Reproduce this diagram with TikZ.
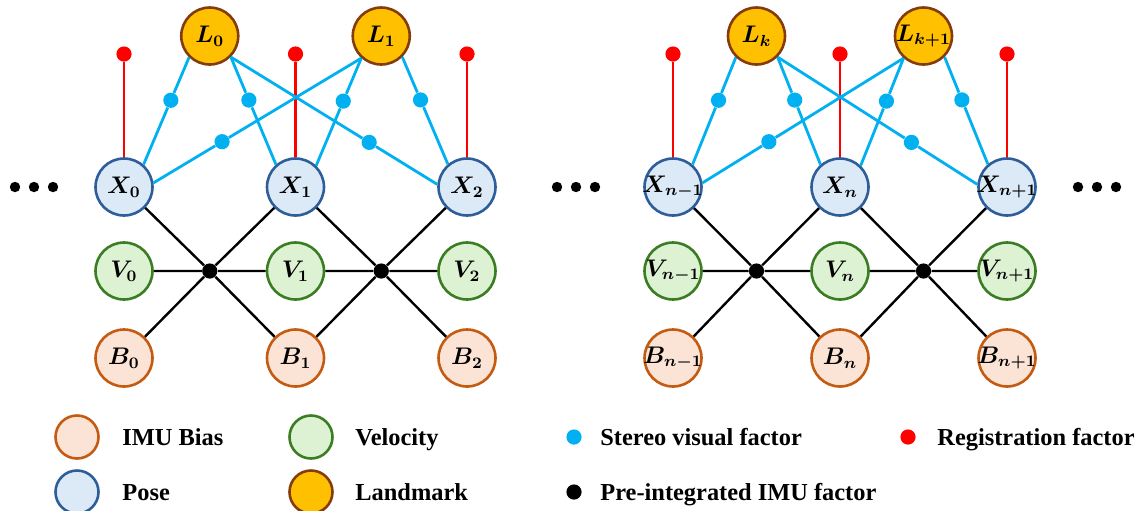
\documentclass[tikz,border=0pt]{standalone}
\usepackage{amsmath}
\usepackage{bm}
\usepackage{fontspec}
\setmainfont{Liberation Serif}
\usetikzlibrary{calc}
\definecolor{poseFill}{HTML}{DCE9F6}
\definecolor{poseLine}{HTML}{2E5E9A}
\definecolor{velFill}{HTML}{DDF2D3}
\definecolor{velLine}{HTML}{3A7D22}
\definecolor{biasFill}{HTML}{FBE3D6}
\definecolor{biasLine}{HTML}{C55A11}
\definecolor{lmFill}{HTML}{FFC000}
\definecolor{lmLine}{HTML}{843C0C}
\definecolor{visBlue}{HTML}{00B0F0}
\definecolor{regRed}{HTML}{FF0000}
\newcommand{\vlabel}[1]{\makebox[0pt]{$\bm{#1}$}}

\begin{document}
\begin{tikzpicture}[x=.5pt,y=-.5pt,
 var/.style={circle,minimum size=28.5pt,inner sep=0pt,line width=1.3pt,font=\fontsize{11.5}{13}\selectfont},
 pose/.style={var,draw=poseLine,fill=poseFill},
 vel/.style={var,draw=velLine,fill=velFill},
 bias/.style={var,draw=biasLine,fill=biasFill},
 lmk/.style={var,draw=lmLine,fill=lmFill},
 fac/.style={circle,minimum size=7.6pt,inner sep=0pt},
 vis/.style={visBlue,line width=1.4pt},
 reg/.style={regRed,line width=1.2pt},
 imu/.style={black,line width=1.2pt},
 leg/.style={var,minimum size=21.5pt},
 legtext/.style={anchor=base west,inner sep=0pt,yshift=-4pt,font=\fontsize{12.2}{14}\bfseries}]
\useasboundingbox (0,0) rectangle (1140,510);

\foreach \g/\x/\d/\i/\j/\k/\p/\q in {a/124/171.5/0/1/2/0/1, b/673/167/n-1/n/n+1/k/k+1} {
 % variables
 \node[pose] (X\g1) at (\x,187) {\vlabel{X_{\i}}};
 \node[pose] (X\g2) at ({\x+\d},187) {\vlabel{X_{\j}}};
 \node[pose] (X\g3) at ({\x+2*\d},187) {\vlabel{X_{\k}}};
 \node[vel] (V\g1) at (\x,271) {\vlabel{V_{\i}}};
 \node[vel] (V\g2) at ({\x+\d},271) {\vlabel{V_{\j}}};
 \node[vel] (V\g3) at ({\x+2*\d},271) {\vlabel{V_{\k}}};
 \node[bias] (B\g1) at (\x,358) {\vlabel{B_{\i}}};
 \node[bias] (B\g2) at ({\x+\d},358) {\vlabel{B_{\j}}};
 \node[bias] (B\g3) at ({\x+2*\d},358) {\vlabel{B_{\k}}};
 \node[lmk] (L\g1) at ({\x+\d/2},36) {\vlabel{L_{\p}}};
 \node[lmk] (L\g2) at ({\x+1.5*\d},36) {\vlabel{L_{\q}}};
 % pre-integrated IMU factors
 \node[fac,fill=black] (F\g1) at ({\x+\d/2},271) {};
 \node[fac,fill=black] (F\g2) at ({\x+1.5*\d},271) {};
 \draw[imu] (X\g1) -- (F\g1) -- (B\g2) (X\g2) -- (F\g1) -- (B\g1) (V\g1) -- (F\g1) -- (V\g2);
 \draw[imu] (X\g2) -- (F\g2) -- (B\g3) (X\g3) -- (F\g2) -- (B\g2) (V\g2) -- (F\g2) -- (V\g3);
 % registration factors
 \foreach \n in {1,2,3} {
  \node[fac,fill=regRed] (R\g\n) at ({\x+(\n-1)*\d},54) {};
  \draw[reg] (X\g\n) -- (R\g\n);
 }
 % stereo visual factors
 \node[fac,fill=visBlue] (S\g1) at ($(L\g1.226)!.4!(X\g1.49)$) {};
 \node[fac,fill=visBlue] (S\g2) at ($(L\g1.315)!.4!(X\g2.131)$) {};
 \node[fac,fill=visBlue] (S\g3) at ($(L\g1.315)!.67!(X\g3.175)$) {};
 \node[fac,fill=visBlue] (S\g4) at ($(L\g2.228)!.67!(X\g1.8)$) {};
 \node[fac,fill=visBlue] (S\g5) at ($(L\g2.228)!.4!(X\g2.46)$) {};
 \node[fac,fill=visBlue] (S\g6) at ($(L\g2.315)!.4!(X\g3.130)$) {};
 \draw[vis] (L\g1.226) -- (S\g1) -- (X\g1.49);
 \draw[vis] (L\g1.315) -- (S\g2) -- (X\g2.131);
 \draw[vis] (L\g1.315) -- (S\g3) -- (X\g3.175);
 \draw[vis] (L\g2.228) -- (S\g4) -- (X\g1.8);
 \draw[vis] (L\g2.228) -- (S\g5) -- (X\g2.46);
 \draw[vis] (L\g2.315) -- (S\g6) -- (X\g3.130);
}

% dots
\foreach \x in {15,34,53,557,576,595,1078,1097,1116}
 \fill (\x,187) circle (2.6pt);

% legend
\node[leg,draw=biasLine,fill=biasFill] (lgBias) at (77,437) {};
\node[legtext] (tBias) at (122,437) {IMU Bias};
\node[leg,draw=poseLine,fill=poseFill] (lgPose) at (77,492) {};
\node[legtext] (tPose) at (122,492) {Pose};
\node[leg,draw=velLine,fill=velFill] (lgVel) at (311,437) {};
\node[legtext] (tVel) at (355,437) {Velocity};
\node[leg,draw=lmLine,fill=lmFill] (lgLmk) at (311,492) {};
\node[legtext] (tLmk) at (355,492) {Landmark};
\node[fac,fill=visBlue] (lgVis) at (574,437) {};
\node[legtext] (tVis) at (600,437) {Stereo visual factor};
\node[fac,fill=black] (lgImu) at (574,492) {};
\node[legtext] (tImu) at (600,492) {Pre-integrated IMU factor};
\node[fac,fill=regRed] (lgReg) at (908,437) {};
\node[legtext] (tReg) at (937,437) {Registration factor};
\end{tikzpicture}
\end{document}
